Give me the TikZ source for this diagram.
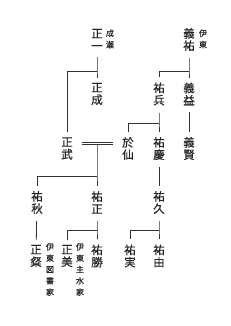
\documentclass[tikz,border=0pt]{standalone}
\usepackage{fontspec}
\setmainfont{Noto Sans CJK JP}[FakeBold=0.4]
\usepackage{tikz}

\begin{document}
\begin{tikzpicture}[x=1pt,y=-1pt,
  nm/.style={font=\fontsize{11.5}{12.3}\selectfont,align=center,
    inner sep=0pt,text=black!85},
  house/.style={font=\fontsize{8}{11.3}\selectfont,align=center,
    inner sep=0pt,text=black!85},
  link/.style={draw=black!80,line width=0.8pt,shorten <=7pt,shorten >=5pt},
  branch/.style={draw=black!80,line width=0.8pt,shorten >=5pt},
  marriage/.style={draw=black!80,line width=0.7pt,double=white,
    double distance=1.2pt,shorten <=9pt,shorten >=9pt}
]
\fill[white] (0,0) rectangle (230,326);
\useasboundingbox (0,0) rectangle (230,326);
%% first row
\node[nm] (yoshisuke) at (189, 39.5) {義\\祐};
\node[house] (itoA) at (203, 39) {伊\\東};
\node[nm] (masakazu) at ( 97, 39.5) {正\\一};
\node[house] (naruse) at (110, 39) {成\\瀬};
%% second row
\node[nm] (suketaka) at (159, 94) {祐\\兵};
\node[nm] (yoshimasu) at (189, 94) {義\\益};
\node[nm] (masanari) at ( 97, 94) {正\\成};
%% third row
\node[nm] (masatake) at ( 67, 148.5) {正\\武};
\node[nm] (osen) at (128, 148.5) {於\\仙};
\node[nm] (sukenori) at (159, 148.5) {祐\\慶};
\node[nm] (yoshikata) at (189, 148.5) {義\\賢};
%% fourth row
\node[nm] (sukeaki) at ( 37, 202.5) {祐\\秋};
\node[nm] (suketada) at ( 97, 202.5) {祐\\正};
\node[nm] (sukehisa) at (159, 202.5) {祐\\久};
%% fifth row
\node[nm] (masaakira) at ( 36, 256) {正\\粲};
\node[house] (itoB) at ( 50, 269.5) {伊\\東\\図\\書\\家};
\node[nm] (masayoshi) at ( 67, 256) {正\\美};
\node[house] (itoC) at ( 80, 269.5) {伊\\東\\主\\水\\家};
\node[nm] (sukekatsu) at ( 97, 256) {祐\\勝};
\node[nm] (sukezane) at (130, 256) {祐\\実};
\node[nm] (sukeyoshi) at (159, 256) {祐\\由};
%% junctions
\coordinate (j1) at (189, 71);
\coordinate (j2) at ( 97, 71);
\coordinate (j3) at (159, 123);
\coordinate (mj) at ( 97, 143.7);
\coordinate (j5) at ( 97, 176);
\coordinate (j6) at ( 97, 230);
\coordinate (j7) at (159, 230);
%% lines
\draw[link] (yoshisuke) -- (j1) -- (yoshimasu);
\draw[branch] (j1) -| (suketaka);
\draw[link] (masakazu) -- (j2) -- (masanari);
\draw[branch] (j2) -| (masatake);
\draw[link] (suketaka) -- (j3) -- (sukenori);
\draw[branch] (j3) -| (osen);
\draw[link] (yoshimasu) -- (yoshikata);
\draw[branch] (mj) -- (j5) -- (suketada);
\draw[branch] (j5) -| (sukeaki);
\draw[marriage] (masatake.east |- mj) -- (osen.west |- mj);
\draw[link] (sukenori) -- (sukehisa);
\draw[link] (sukeaki) -- (masaakira);
\draw[link] (suketada) -- (j6) -- (sukekatsu);
\draw[branch] (j6) -| (masayoshi);
\draw[link] (sukehisa) -- (j7) -- (sukeyoshi);
\draw[branch] (j7) -| (sukezane);
\end{tikzpicture}
\end{document}
